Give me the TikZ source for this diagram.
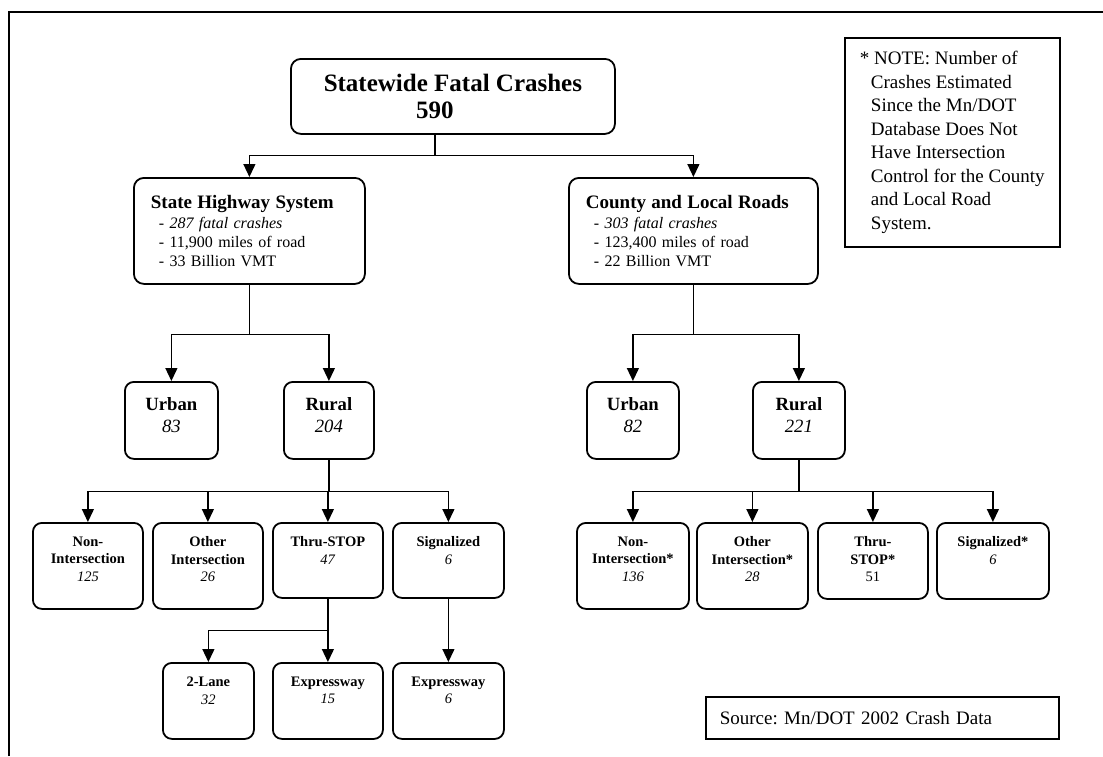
\documentclass[tikz,border=0pt]{standalone}
\usepackage{fontspec}
\setmainfont{Liberation Serif}
\usetikzlibrary{arrows.meta}
\newcommand{\cellbox}[4]{\parbox[c][#2][t]{#1}{\centering\vspace*{#3}#4}}

\begin{document}
\frenchspacing
\begin{tikzpicture}[x=1pt, y=-1pt,
      box/.style={draw, line width=1.8pt, rounded corners=9pt, inner sep=0pt,
                  anchor=north west, font=\fontsize{14.5}{17.5}\selectfont},
      midbox/.style={box, font=\fontsize{18.7}{22}\selectfont},
      headbox/.style={draw, line width=1.8pt, rounded corners=10pt, inner sep=0pt,
                  anchor=north west, align=center, font=\fontsize{25}{27}\selectfont\bfseries},
      sysbox/.style={draw, line width=1.8pt, rounded corners=10pt, anchor=north west,
                  align=left, inner xsep=17pt, minimum height=106pt, font=\fontsize{16}{19}\selectfont},
      notebox/.style={draw, line width=1.5pt, anchor=north west, align=left, inner xsep=14pt},
      conn/.style={line width=1.3pt},
      connarrow/.style={conn, -{Triangle[length=13pt,width=12pt]}}]
  \useasboundingbox (0,0) rectangle (1103,756);
  \draw[line width=1.8pt] (9,756) |- (1103,12);

  % top level
  \node[headbox, minimum width=324pt, minimum height=75pt] (top) at (290,58)
    {Statewide Fatal Crashes\\590\hspace*{36pt}};
  \node[sysbox, text width=197pt] (sysL) at (133,177)
    {{\fontsize{19}{22}\selectfont\bfseries State Highway System}\\[1pt]
     \hspace*{8pt}- \textit{287 fatal crashes}\\
     \hspace*{8pt}- 11,900 miles of road\\
     \hspace*{8pt}- 33 Billion VMT};
  \node[sysbox, text width=215pt] (sysR) at (568,177)
    {{\fontsize{19}{22}\selectfont\bfseries County and Local Roads}\\[1pt]
     \hspace*{8pt}- \textit{303 fatal crashes}\\
     \hspace*{8pt}- 123,400 miles of road\\
     \hspace*{8pt}- 22 Billion VMT};
  \node[notebox, minimum width=215pt, minimum height=209pt, font=\fontsize{19}{23.5}\selectfont] (note) at (844,37)
    {* NOTE: Number of\\
     \hspace*{11pt}Crashes Estimated\\
     \hspace*{11pt}Since the Mn/DOT\\
     \hspace*{11pt}Database Does Not\\
     \hspace*{11pt}Have Intersection\\
     \hspace*{11pt}Control for the County\\
     \hspace*{11pt}and Local Road\\
     \hspace*{11pt}System.};

  % urban / rural
  \node[midbox] (urbL) at (124,381) {\cellbox{93pt}{77pt}{16pt}{\textbf{Urban}\\\textit{83}}};
  \node[midbox] (rurL) at (283,381) {\cellbox{90pt}{77pt}{16pt}{\textbf{Rural}\\\textit{204}}};
  \node[midbox] (urbR) at (586,381) {\cellbox{92pt}{77pt}{16pt}{\textbf{Urban}\\\textit{82}}};
  \node[midbox] (rurR) at (752,381) {\cellbox{92pt}{77pt}{16pt}{\textbf{Rural}\\\textit{221}}};

  % intersection types
  \node[box] (nonL) at (32,522)  {\cellbox{110pt}{86pt}{14pt}{\textbf{Non-}\\\textbf{Intersection}\\\textit{125}}};
  \node[box] (othL) at (152,522) {\cellbox{110pt}{86pt}{14pt}{\textbf{Other}\\\textbf{Intersection}\\\textit{26}}};
  \node[box] (thrL) at (272,522) {\cellbox{110pt}{75pt}{14pt}{\textbf{Thru-STOP}\\\textit{47}}};
  \node[box] (sigL) at (392,522) {\cellbox{111pt}{75pt}{14pt}{\textbf{Signalized}\\\textit{6}}};
  \node[box] (nonR) at (576,522) {\cellbox{112pt}{86pt}{14pt}{\textbf{Non-}\\\textbf{Intersection*}\\\textit{136}}};
  \node[box] (othR) at (696,522) {\cellbox{111pt}{86pt}{14pt}{\textbf{Other}\\\textbf{Intersection*}\\\textit{28}}};
  \node[box] (thrR) at (817,522) {\cellbox{110pt}{76pt}{14pt}{\textbf{Thru-}\\\textbf{STOP*}\\51}};
  \node[box] (sigR) at (936,522) {\cellbox{112pt}{76pt}{14pt}{\textbf{Signalized*}\\\textit{6}}};

  % road types
  \node[box] (twoL) at (162,662) {\cellbox{91pt}{76pt}{14pt}{\textbf{2-Lane}\\\textit{32}}};
  \node[box] (expA) at (272,662) {\cellbox{110pt}{76pt}{14pt}{\textbf{Expressway}\\\textit{15}}};
  \node[box] (expB) at (392,662) {\cellbox{111pt}{76pt}{14pt}{\textbf{Expressway}\\\textit{6}}};

  \node[notebox, text width=325pt, minimum height=42pt, font=\fontsize{19}{22}\selectfont] (source) at (705,696)
    {Source: Mn/DOT 2002 Crash Data};

  % connectors
  \draw[conn] ([xshift=-18pt]top.south) -- ++(0,21) coordinate (topfork);
  \draw[connarrow] (topfork) -| (sysL.north);
  \draw[connarrow] (topfork) -| (sysR.north);

  \draw[conn] (sysL.south) -- ++(0,50) coordinate (sysLfork);
  \draw[connarrow] (sysLfork) -| (urbL.north);
  \draw[connarrow] (sysLfork) -| (rurL.north);
  \draw[conn] (sysR.south) -- ++(0,50) coordinate (sysRfork);
  \draw[connarrow] (sysRfork) -| (urbR.north);
  \draw[connarrow] (sysRfork) -| (rurR.north);

  \draw[conn] (rurL.south) -- ++(0,32) coordinate (rurLfork);
  \foreach \kid in {nonL, othL, thrL, sigL}
    \draw[connarrow] (rurLfork) -| (\kid.north);
  \draw[conn] (rurR.south) -- ++(0,32) coordinate (rurRfork);
  \foreach \kid in {nonR, othR, thrR, sigR}
    \draw[connarrow] (rurRfork) -| (\kid.north);

  \draw[conn] (thrL.south) -- ++(0,32) coordinate (thrLfork);
  \draw[connarrow] (thrLfork) -| (twoL.north);
  \draw[connarrow] (thrLfork) -| (expA.north);
  \draw[connarrow] (sigL.south) -- (expB.north);
\end{tikzpicture}
\end{document}
